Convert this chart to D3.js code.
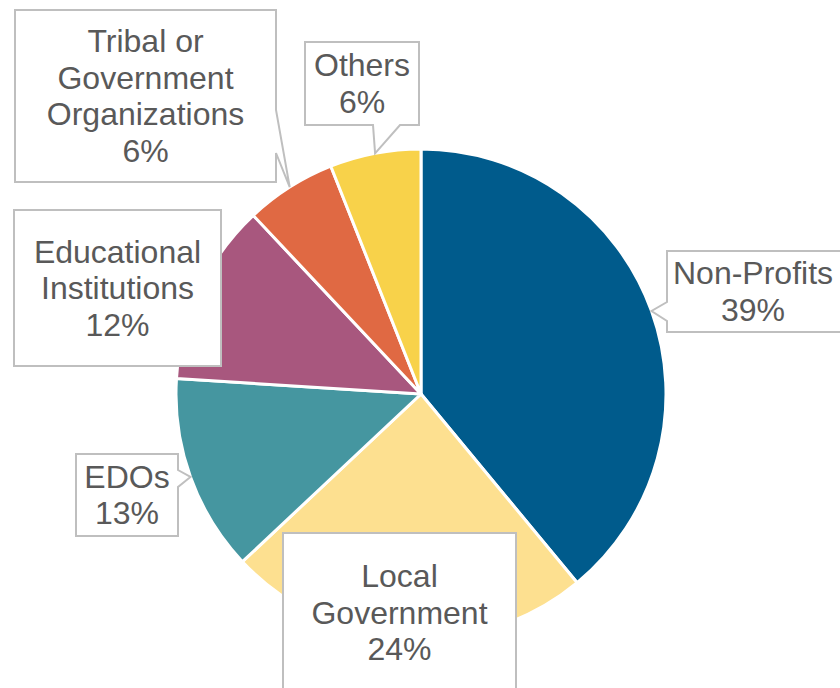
<!DOCTYPE html>
<html><head><meta charset="utf-8">
<script src="https://cdn.jsdelivr.net/npm/d3@7"></script>
<style>body{margin:0;background:#fff}</style>
</head><body>
<svg id="c" width="840" height="688"></svg>
<script>
const categories = ["Non-Profits","Local Government","EDOs","Educational Institutions","Tribal or Government Organizations","Others"];
const values = [39, 24, 13, 12, 6, 6];
const labelLines = [["Non-Profits"],["Local","Government"],["EDOs"],["Educational","Institutions"],["Tribal or","Government","Organizations"],["Others"]];
const colors = ["#005b8c","#fde090","#4596a0","#a8577e","#e06943","#f8d24a"];

// label box layout: x,y,w,h; pointer side and base range
const boxes = [
  {x:667,y:251,w:190,h:81, side:"left", b0:302, b1:321},
  {x:283,y:533,w:233,h:170, side:null},
  {x:76,y:454,w:102,h:82, side:"right", b0:470, b1:487},
  {x:14,y:210,w:207,h:156, side:null},
  {x:15,y:10,w:261,h:172, side:"right", b0:110, b1:153},
  {x:305,y:42,w:114,h:83, side:"bottom", b0:373, b1:400}
];

const svg = d3.select("#c");
const cx = 421, cy = 394, R = 245;
const g = svg.append("g").attr("transform",`translate(${cx},${cy})`);
const pie = d3.pie().sort(null).value(d=>d)(values);
const arc = d3.arc().innerRadius(0).outerRadius(R);
g.selectAll("path.s").data(pie).join("path").attr("class","s")
  .attr("d",arc).attr("fill",(d,i)=>colors[i])
  .attr("stroke","#fff").attr("stroke-width",3).attr("stroke-linejoin","round");

const edge = d3.arc().innerRadius(R).outerRadius(R);
const fs = 32, lh = 36.5;
pie.forEach((d,i)=>{
  const b = boxes[i];
  const [tx,ty] = edge.centroid(d).map((v,k)=>v+(k?cy:cx));
  const x0=b.x,y0=b.y,x1=b.x+b.w,y1=b.y+b.h;
  let p;
  if(b.side==="left") p=`M${x0},${y0}H${x1}V${y1}H${x0}V${b.b1}L${tx},${ty}L${x0},${b.b0}Z`;
  else if(b.side==="right") p=`M${x0},${y0}H${x1}V${b.b0}L${tx},${ty}L${x1},${b.b1}V${y1}H${x0}Z`;
  else if(b.side==="bottom") p=`M${x0},${y0}H${x1}V${y1}H${b.b1}L${tx},${ty}L${b.b0},${y1}H${x0}Z`;
  else p=`M${x0},${y0}H${x1}V${y1}H${x0}Z`;
  svg.append("path").attr("d",p).attr("fill","#fff").attr("stroke","#bfbfbf").attr("stroke-width",2);
  const lines = labelLines[i].concat([values[i]+"%"]);
  const tcx = b.side==="left" ? x0 + 86 : (x0+x1)/2;
  const start = (b.side===null && i===1) ? y0+43 : y0 + b.h/2 - (lines.length-1)*lh/2;
  const t = svg.append("text").attr("font-family","'Liberation Sans', Arial, sans-serif")
    .attr("font-size",fs).attr("fill","#595959").attr("text-anchor","middle");
  lines.forEach((l,k)=>t.append("tspan").attr("x",tcx).attr("y",start+k*lh).attr("dy","0.35em").text(l));
});
</script>
</body></html>
